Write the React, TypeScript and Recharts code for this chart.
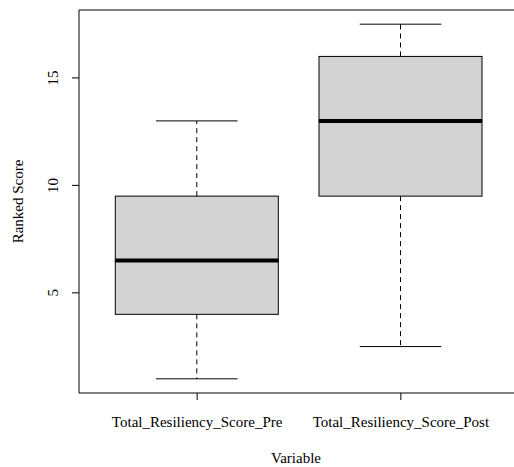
import React from 'react';
import {
  ComposedChart,
  Bar,
  XAxis,
  YAxis,
  ReferenceLine,
  Label
} from 'recharts';

// five-number summaries
const categories = ['Total_Resiliency_Score_Pre', 'Total_Resiliency_Score_Post'];
const positions = [1, 2];
const mins = [1, 2.5];
const q1s = [4, 9.5];
const medians = [6.5, 13];
const q3s = [9.5, 16];
const maxs = [13, 17.5];
const yTicks = [5, 10, 15];

const X_DOMAIN: [number, number] = [0.42, 2.58];
const Y_DOMAIN: [number, number] = [0.34, 18.16];

const FONT = "'Liberation Serif', 'Times New Roman', serif";
const BOX_FILL = '#D3D3D3';
const textStyle = { fontFamily: FONT, fontSize: 15 };

const data = categories.map((name, i) => ({
  name,
  pos: positions[i],
  base: mins[i],
  lowerWhisker: q1s[i] - mins[i],
  lowerBox: medians[i] - q1s[i],
  upperBox: q3s[i] - medians[i],
  upperWhisker: maxs[i] - q3s[i]
}));

const LowerWhisker = (props: any) => {
  const { x, y, width, height } = props;
  const cx = x + width / 2;
  const bottom = y + height;
  return (
    <g>
      <line x1={cx} y1={y} x2={cx} y2={bottom} stroke="#000" strokeWidth={1} strokeDasharray="5 4" />
      <line x1={cx - width / 4} y1={bottom} x2={cx + width / 4} y2={bottom} stroke="#000" strokeWidth={1} />
    </g>
  );
};

const UpperWhisker = (props: any) => {
  const { x, y, width, height } = props;
  const cx = x + width / 2;
  return (
    <g>
      <line x1={cx} y1={y + height} x2={cx} y2={y} stroke="#000" strokeWidth={1} strokeDasharray="5 4" />
      <line x1={cx - width / 4} y1={y} x2={cx + width / 4} y2={y} stroke="#000" strokeWidth={1} />
    </g>
  );
};

const LowerBox = (props: any) => {
  const { x, y, width, height } = props;
  return <rect x={x} y={y} width={width} height={height} fill={BOX_FILL} stroke="#000" strokeWidth={1} />;
};

const UpperBox = (props: any) => {
  const { x, y, width, height } = props;
  return (
    <g>
      <rect x={x} y={y} width={width} height={height} fill={BOX_FILL} stroke="#000" strokeWidth={1} />
      <line x1={x} y1={y + height} x2={x + width} y2={y + height} stroke="#000" strokeWidth={4} />
    </g>
  );
};

const XTick = (props: any) => {
  const { x, y, payload } = props;
  const idx = positions.indexOf(payload.value);
  return (
    <text x={x} y={y + 25} textAnchor="middle" fill="#000" style={textStyle}>
      {idx >= 0 ? categories[idx] : ''}
    </text>
  );
};

const YTick = (props: any) => {
  const { x, y, payload } = props;
  const cx = x - 17;
  return (
    <text
      x={cx}
      y={y}
      transform={`rotate(-90, ${cx}, ${y})`}
      textAnchor="middle"
      dominantBaseline="central"
      fill="#000"
      style={textStyle}
    >
      {payload.value}
    </text>
  );
};

const YTitle = (props: any) => {
  const { x, y, height } = props.viewBox;
  const cx = x + 18;
  const cy = y + height / 2;
  return (
    <text
      x={cx}
      y={cy}
      transform={`rotate(-90, ${cx}, ${cy})`}
      textAnchor="middle"
      dominantBaseline="central"
      fill="#000"
      style={textStyle}
    >
      Ranked Score
    </text>
  );
};

const XTitle = (props: any) => {
  const { x, width } = props.viewBox;
  // the axis title sits a fixed distance under the plot's bottom edge
  const plotBottom = props.viewBox.y;
  return (
    <text x={x + width / 2 - 3} y={plotBottom + 70} textAnchor="middle" fill="#000" style={textStyle}>
      Variable
    </text>
  );
};

export default function App() {
  return (
    <div
      style={{
        position: 'fixed',
        top: 0,
        left: 0,
        width: 514,
        height: 467,
        overflow: 'hidden',
        background: '#fff'
      }}
    >
      <ComposedChart
        width={530}
        height={467}
        data={data}
        margin={{ top: 10, right: 11, bottom: 0, left: 0 }}
      >
        <XAxis
          type="number"
          dataKey="pos"
          domain={X_DOMAIN}
          ticks={positions}
          allowDataOverflow
          height={74}
          stroke="#000"
          tickSize={7}
          tickLine={{ stroke: '#000' }}
          axisLine={{ stroke: '#000' }}
          tick={<XTick />}
        >
          <Label content={<XTitle />} />
        </XAxis>
        <YAxis
          type="number"
          domain={Y_DOMAIN}
          ticks={yTicks}
          allowDataOverflow
          width={79}
          stroke="#000"
          tickSize={7}
          tickLine={{ stroke: '#000' }}
          axisLine={{ stroke: '#000' }}
          tick={<YTick />}
        >
          <Label content={<YTitle />} />
        </YAxis>
        <ReferenceLine y={Y_DOMAIN[1]} stroke="#000" strokeWidth={1} />
        <Bar dataKey="base" stackId="box" fill="none" barSize={163} isAnimationActive={false} />
        <Bar dataKey="lowerWhisker" stackId="box" barSize={163} shape={<LowerWhisker />} isAnimationActive={false} />
        <Bar dataKey="lowerBox" stackId="box" barSize={163} shape={<LowerBox />} isAnimationActive={false} />
        <Bar dataKey="upperBox" stackId="box" barSize={163} shape={<UpperBox />} isAnimationActive={false} />
        <Bar dataKey="upperWhisker" stackId="box" barSize={163} shape={<UpperWhisker />} isAnimationActive={false} />
      </ComposedChart>
    </div>
  );
}
